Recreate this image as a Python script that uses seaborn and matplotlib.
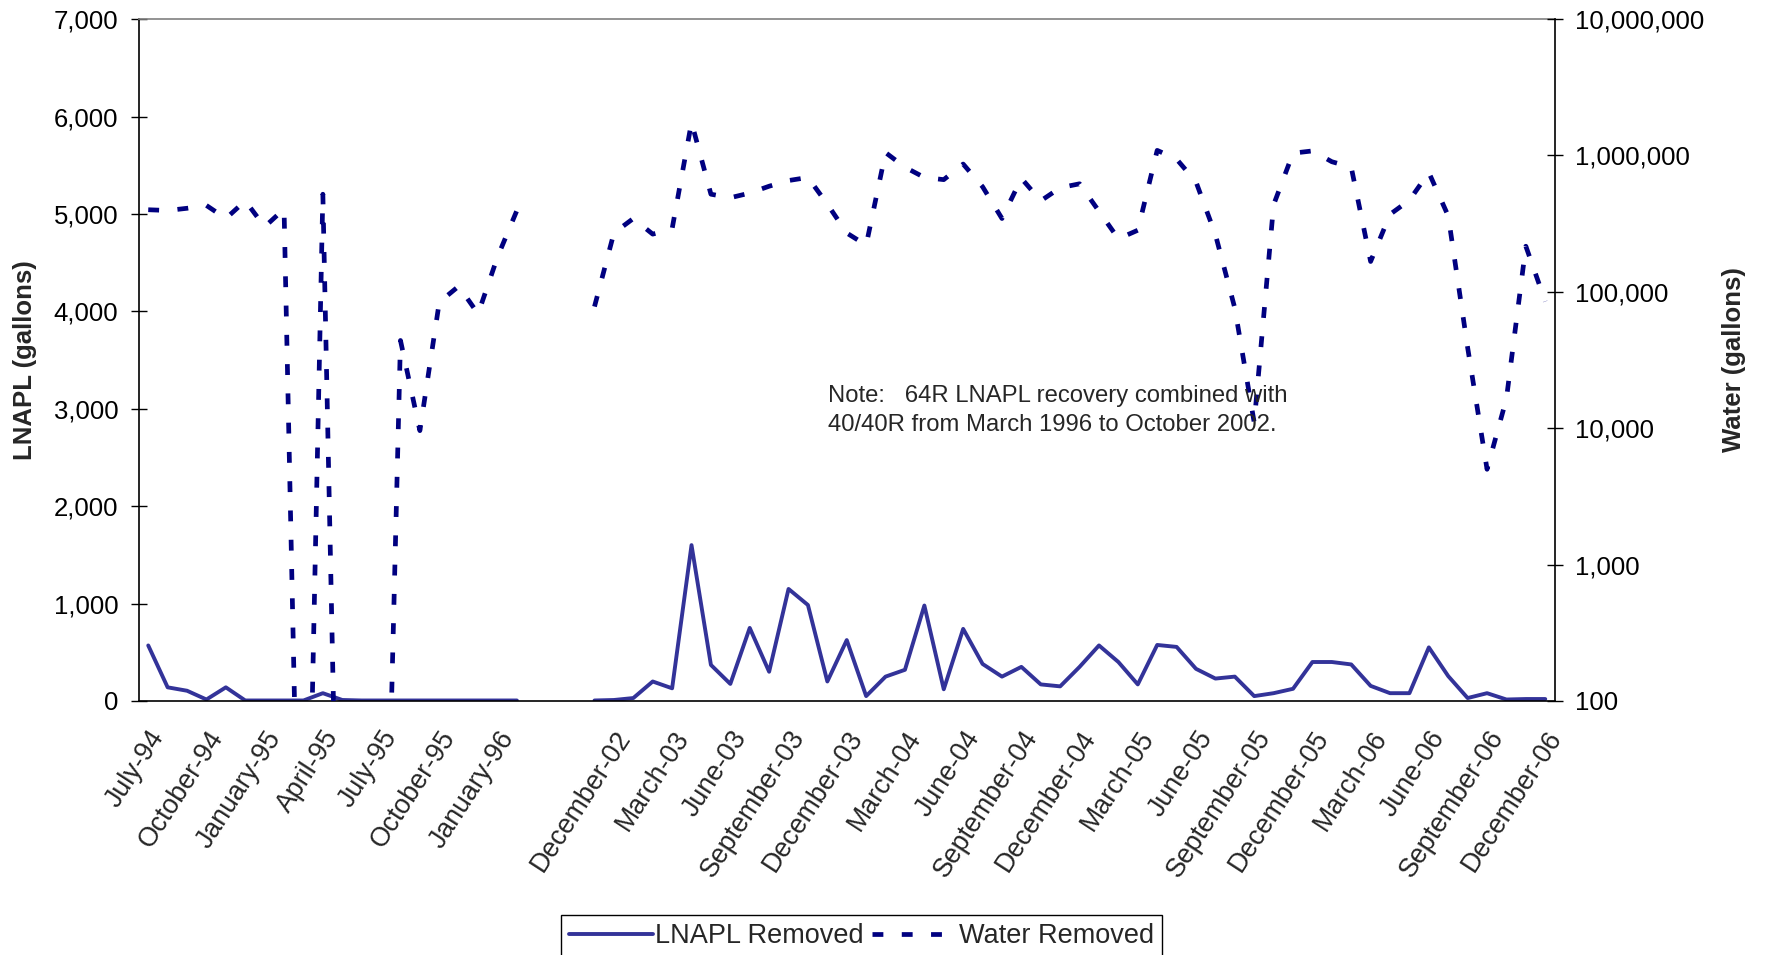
import matplotlib
matplotlib.use("Agg")

import matplotlib.pyplot as plt
import numpy as np
import pandas as pd
import seaborn as sns
from matplotlib.lines import Line2D
from matplotlib.ticker import FuncFormatter, NullLocator

# monthly categories: Jul-94..Feb-96, three blank slots, Nov-02..Dec-06
early_months = pd.date_range("1994-07-01", "1996-02-01", freq="MS")
late_months = pd.date_range("2002-11-01", "2006-12-01", freq="MS")
categories = (
    [d.strftime("%B-%y") for d in early_months]
    + ["", "", ""]
    + [d.strftime("%B-%y") for d in late_months]
)

nan = np.nan
lnapl_removed = [
    570, 140, 105, 15, 140, 5, 5, 5, 5, 80,
    10, 5, 5, 5, 5, 5, 5, 5, 5, 5,
    nan, nan, nan,
    5, 10, 30, 200, 130, 1600, 370, 175, 750, 300,
    1150, 985, 200, 625, 50, 250, 320, 980, 120, 740,
    380, 250, 350, 170, 150, 350, 570, 400, 170, 575,
    555, 330, 230, 250, 50, 80, 125, 400, 400, 375,
    155, 80, 80, 550, 255, 30, 80, 15, 20, 20,
]
# months with no water pumped fall far below the log axis floor
water_removed = [
    400000, 395000, 410000, 430000, 345000, 465000, 300000, 405000, 0.08, 520000,
    0.08, 0.08, 0.08, 44000, 9600, 84000, 110000, 69000, 180000, 395000,
    nan, nan, nan,
    78000, 270000, 345000, 265000, 290000, 1750000, 520000, 490000, 530000, 595000,
    655000, 690000, 440000, 270000, 220000, 1050000, 820000, 690000, 665000, 865000,
    590000, 345000, 680000, 465000, 580000, 620000, 390000, 245000, 283000, 1090000,
    940000, 640000, 263000, 76000, 11000, 435000, 1040000, 1080000, 900000, 820000,
    167000, 370000, 470000, 750000, 360000, 39000, 5000, 16500, 216000, 85000,
]
segment = [0] * 20 + [nan] * 3 + [1] * 50

df = pd.DataFrame({
    "pos": np.arange(len(categories)),
    "month": categories,
    "lnapl": lnapl_removed,
    "water": water_removed,
    "segment": segment,
}).dropna(subset=["segment"])

sns.set_style("white")
plt.rcParams["font.family"] = ["Liberation Sans", "DejaVu Sans"]
fs = 18.5
lnapl_color = "#333399"
water_color = "#000080"
water_dash = (0, (2.3, 3.9))

fig = plt.figure(figsize=(17.67, 9.55), dpi=100)
ax = fig.add_axes([0.0784, 0.266, 0.8016, 0.714])
ax2 = ax.twinx()
ax2.set_yscale("log")

sns.lineplot(data=df, x="pos", y="lnapl", units="segment", estimator=None,
             color=lnapl_color, linewidth=2.8, legend=False, ax=ax)
sns.lineplot(data=df, x="pos", y="water", units="segment", estimator=None,
             color=water_color, linewidth=3.4, legend=False, ax=ax2)
for line in ax2.lines:
    line.set_linestyle(water_dash)
    line.set_dash_capstyle("butt")

thousands = FuncFormatter(lambda v, _: f"{v:,.0f}")

ax.set_xlim(-0.5, len(categories) - 0.5)
ax.set_ylim(0, 7000)
ax.set_yticks(range(0, 7001, 1000))
ax.yaxis.set_major_formatter(thousands)
ax.tick_params(axis="y", direction="inout", length=11, width=1, labelsize=fs, pad=9, colors="black")

ax2.set_ylim(100, 1e7)
ax2.set_yticks([1e2, 1e3, 1e4, 1e5, 1e6, 1e7])
ax2.yaxis.set_minor_locator(NullLocator())
ax2.yaxis.set_major_formatter(thousands)
ax2.tick_params(axis="y", direction="inout", length=11, width=1, labelsize=fs, pad=9, colors="black")

label_pos = [i for i, c in enumerate(categories) if i % 3 == 0 and c]
ax.set_xticks(label_pos)
ax.set_xticklabels([categories[i] for i in label_pos], rotation=57, ha="right",
                   va="top", rotation_mode="anchor", fontsize=19.3)
ax.set_xticks(np.arange(-0.5, len(categories)), minor=True)
ax.tick_params(axis="x", which="major", length=0, pad=18)
ax.tick_params(axis="x", which="minor", direction="inout", length=11, width=1, color="black")

ax.set_xlabel("")
ax.set_ylabel("LNAPL (gallons)", fontsize=fs, fontweight="bold")
ax.yaxis.set_label_coords(-0.0717, 0.5)
ax2.set_ylabel("Water (gallons)", fontsize=fs, fontweight="bold")
ax2.yaxis.set_label_coords(1.118, 0.5)

for name, spine in ax.spines.items():
    spine.set_visible(name in ("left", "bottom", "top"))
    spine.set_color("#808080" if name == "top" else "black")
    spine.set_linewidth(1.2)
for name, spine in ax2.spines.items():
    spine.set_visible(name == "right")
    spine.set_color("black")
    spine.set_linewidth(1.2)

fig.text(0.4686, 0.597,
         "Note:   64R LNAPL recovery combined with\n40/40R from March 1996 to October 2002.",
         fontsize=17.2, va="top", ha="left", linespacing=1.4)

handles = [
    Line2D([], [], color=lnapl_color, linewidth=2.8),
    Line2D([], [], color=water_color, linewidth=3.4, linestyle=water_dash, dash_capstyle="butt"),
]
leg = fig.legend(handles, ["LNAPL Removed", "Water Removed"], loc="upper center",
                 bbox_to_anchor=(0.4875, 0.042), ncol=2, frameon=True, fancybox=False,
                 edgecolor="black", framealpha=1, fontsize=19.5, handlelength=3.1,
                 handletextpad=0.1, columnspacing=0.3, borderpad=0.3, borderaxespad=0)
leg.get_frame().set_linewidth(1.0)

fig.savefig("out.png", dpi=100)
plt.close(fig)
